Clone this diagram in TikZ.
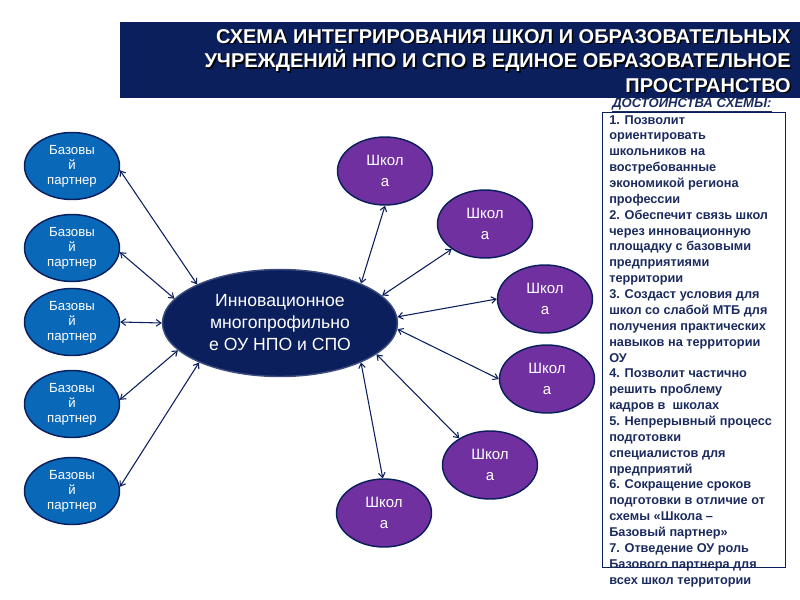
\documentclass[tikz,border=0pt]{standalone}
\usepackage{fontspec}
\setmainfont{Liberation Sans}
\usetikzlibrary{arrows.meta,shapes.geometric}
\definecolor{navy}{HTML}{0B1F5C}
\definecolor{basebl}{HTML}{0A68B8}
\definecolor{schpur}{HTML}{7030A0}
\definecolor{txtnavy}{HTML}{1B2B5E}
\begin{document}
\begin{tikzpicture}[x=0.75pt,y=-0.75pt,
  partner/.style={ellipse,draw=navy,line width=1.1pt,fill=basebl,text=white,
    minimum width=71.25pt,minimum height=50.25pt,inner sep=0pt,align=center,
    font=\fontsize{9.9pt}{11.25pt}\selectfont},
  school/.style={ellipse,draw=navy,line width=1.1pt,fill=schpur,text=white,
    minimum width=71.25pt,minimum height=51pt,inner sep=0pt,align=center,
    font=\fontsize{11.25pt}{15.75pt}\selectfont},
  hub/.style={ellipse,draw=navy!80!white,line width=1.1pt,fill=navy,text=white,
    minimum width=176.25pt,minimum height=80.25pt,inner sep=0pt,align=center,
    font=\fontsize{13.2pt}{16.5pt}\selectfont},
  link/.style={draw=navy,line width=0.8pt,{Straight Barb[length=3.5pt,width=5pt]}-{Straight Barb[length=3.5pt,width=5pt]}},
  titletext/.style={align=right,inner sep=0pt,font=\fontsize{15pt}{18.3pt}\selectfont\bfseries},
  listtext/.style={align=left,inner sep=0pt,text=txtnavy,font=\fontsize{9.55pt}{11.9pt}\selectfont\bfseries}
]
\useasboundingbox (0,0) rectangle (800,600);
% banner
\node[fill=navy,inner sep=0pt,minimum width=510pt,minimum height=57pt,anchor=north west] (banner) at (120,22) {};
\node[titletext,text=black,anchor=east] (titleshadow) at (792.5,62.5) {СХЕМА ИНТЕГРИРОВАНИЯ ШКОЛ И ОБРАЗОВАТЕЛЬНЫХ\\УЧРЕЖДЕНИЙ НПО И СПО В ЕДИНОЕ ОБРАЗОВАТЕЛЬНОЕ\\ПРОСТРАНСТВО};
\node[titletext,text=white,anchor=east] (title) at (791,61) {СХЕМА ИНТЕГРИРОВАНИЯ ШКОЛ И ОБРАЗОВАТЕЛЬНЫХ\\УЧРЕЖДЕНИЙ НПО И СПО В ЕДИНОЕ ОБРАЗОВАТЕЛЬНОЕ\\ПРОСТРАНСТВО};
% right panel
\node[draw=navy,line width=0.8pt,inner sep=0pt,minimum width=137.25pt,minimum height=341.25pt,anchor=north west] (panel) at (602,112) {};
\node[inner sep=0pt,anchor=base west,text=txtnavy,font=\fontsize{9.8pt}{12pt}\selectfont\bfseries\itshape] (head) at (612,107) {\underline{ДОСТОИНСТВА СХЕМЫ:}};
\node[listtext,anchor=north west] (list) at (609,115) {1. Позволит\\ориентировать\\школьников на\\востребованные\\экономикой региона\\профессии\\2. Обеспечит связь школ\\через инновационную\\площадку с базовыми\\предприятиями\\территории\\3. Создаст условия для\\школ со слабой МТБ для\\получения практических\\навыков на территории\\ОУ\\4. Позволит частично\\решить проблему\\кадров в~~школах\\5. Непрерывный процесс\\подготовки\\специалистов для\\предприятий\\6. Сокращение сроков\\подготовки в отличие от\\схемы «Школа –\\Базовый партнер»\\7. Отведение ОУ роль\\Базового партнера для\\всех школ территории};
% hub
\node[hub] (c) at (280,323) {Инновационное\\многопрофильно\\е ОУ НПО и СПО};
% partners
\node[partner] (b1) at (72,166) {Базовы\\й\\партнер};
\node[partner] (b2) at (72,248) {Базовы\\й\\партнер};
\node[partner] (b3) at (72,322) {Базовы\\й\\партнер};
\node[partner] (b4) at (72,404) {Базовы\\й\\партнер};
\node[partner] (b5) at (72,491) {Базовы\\й\\партнер};
% schools
\node[school] (s1) at (385,171) {Школ\\а};
\node[school] (s2) at (485,224) {Школ\\а};
\node[school] (s3) at (545,299) {Школ\\а};
\node[school] (s4) at (547,379) {Школ\\а};
\node[school] (s5) at (490,465) {Школ\\а};
\node[school] (s6) at (384,513) {Школ\\а};
% links
\draw[link] (b1.-5) -- (c.155);
\draw[link] (b2.-5) -- (c.167);
\draw[link] (b3.0) -- (c.180);
\draw[link] (b4.5) -- (c.-165);
\draw[link] (b5.5) -- (c.-154);
\draw[link] (s1.-90) -- (c.26);
\draw[link] (s2.-143) -- (c.15);
\draw[link] (s3.180) -- (c.3);
\draw[link] (s4.180) -- (c.-3);
\draw[link] (s5.139) -- (c.-18);
\draw[link] (s6.92) -- (c.-26);
\end{tikzpicture}
\end{document}
